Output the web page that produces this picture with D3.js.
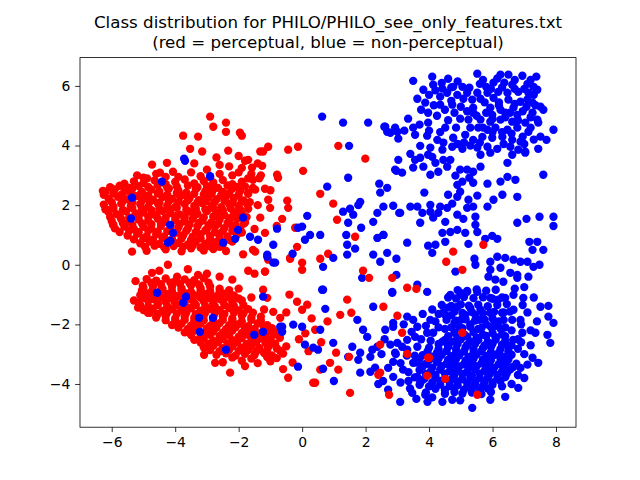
<!DOCTYPE html>
<html>
<head>
<meta charset="utf-8">
<script src="https://cdn.jsdelivr.net/npm/d3@7"></script>
<style>
  body { margin: 0; background: #fff; }
  text { font-family: "DejaVu Sans", sans-serif; }
</style>
</head>
<body>
<div id="chart"></div>
<script>
// Chart text
var titleLines = ["Class distribution for PHILO/PHILO_see_only_features.txt",
                  "(red = perceptual, blue = non-perceptual)"];
var xTicks = [-6, -4, -2, 0, 2, 4, 6, 8];
var yTicks = [-4, -2, 0, 2, 4, 6];

// red = perceptual, upper left blob
var redUpperCore = [
  [-5.6,2.72],[-5.3,2.8],[-5.0,2.74],[-4.65,2.83],[-4.3,2.7],[-4.0,2.78],[-3.7,2.86],[-3.4,2.73],[-3.1,2.81],[-2.8,2.76],[-2.5,2.84],[-2.2,2.7],[-1.9,2.79],
  [-6.2,2.45],[-5.9,2.53],[-5.6,2.47],[-5.35,2.55],[-5.05,2.44],[-4.75,2.52],[-4.5,2.46],[-4.2,2.56],[-3.9,2.49],[-3.65,2.42],[-3.35,2.54],[-3.05,2.47],[-2.8,2.52],[-2.5,2.44],[-2.2,2.55],[-1.95,2.48],[-1.7,2.41],
  [-6.1,2.22],[-5.8,2.28],[-5.55,2.2],[-5.25,2.3],[-4.95,2.24],[-4.7,2.18],[-4.4,2.27],[-4.1,2.21],[-3.85,2.3],[-3.55,2.23],[-3.25,2.17],[-2.95,2.26],[-2.7,2.2],[-2.4,2.29],[-2.15,2.23],[-1.85,2.16],
  [-6.25,2.02],[-5.95,1.96],[-5.7,2.05],[-5.4,1.98],[-5.1,2.03],[-4.85,1.95],[-4.55,2.06],[-4.25,1.99],[-4.0,1.94],[-3.7,2.04],[-3.4,1.97],[-3.15,2.07],[-2.85,2.0],[-2.55,1.93],[-2.3,2.04],[-2.0,1.98],[-1.75,2.06],
  [-6.1,1.77],[-5.85,1.7],[-5.55,1.79],[-5.25,1.72],[-5.0,1.76],[-4.7,1.69],[-4.4,1.8],[-4.15,1.73],[-3.85,1.68],[-3.55,1.78],[-3.3,1.71],[-3.0,1.8],[-2.7,1.74],[-2.45,1.67],[-2.15,1.77],[-1.9,1.72],
  [-6.0,1.47],[-5.7,1.53],[-5.45,1.45],[-5.15,1.52],[-4.85,1.48],[-4.55,1.55],[-4.3,1.44],[-4.0,1.51],[-3.7,1.46],[-3.45,1.54],[-3.15,1.48],[-2.85,1.43],[-2.6,1.52],[-2.3,1.46],[-2.05,1.55],[-1.8,1.42],
  [-5.9,1.22],[-5.6,1.28],[-5.3,1.2],[-5.0,1.27],[-4.75,1.21],[-4.45,1.3],[-4.15,1.19],[-3.9,1.26],[-3.6,1.22],[-3.3,1.29],[-3.0,1.2],[-2.75,1.27],[-2.45,1.23],[-2.2,1.3],[-1.95,1.18],
  [-5.5,0.98],[-5.2,1.04],[-4.9,0.96],[-4.6,1.02],[-4.35,0.95],[-4.05,1.05],[-3.75,0.99],[-3.45,0.94],[-3.2,1.03],[-2.9,0.97],[-2.6,1.04],[-2.35,0.95],[-2.05,1.01],
  [-5.1,0.72],[-4.8,0.78],[-4.5,0.7],[-4.2,0.77],[-3.9,0.73],[-3.6,0.68],[-3.35,0.79],[-3.05,0.71],[-2.75,0.76],[-2.5,0.69],[-2.2,0.78],
  [-4.9,0.47],[-4.3,0.52],[-3.8,0.45],[-3.5,0.55],[-3.1,0.48],[-2.8,0.53],[-2.4,0.46],
  [-5.2,3.0],[-4.6,3.05],[-3.5,3.1],[-2.6,3.05],[-2.2,3.0],[-3.9,2.95]
];
var redUpperFill = [
  [-6.05,2.6],[-5.75,2.65],[-5.45,2.58],[-5.15,2.64],[-4.85,2.61],[-4.55,2.67],[-4.25,2.59],[-3.95,2.63],[-3.6,2.66],[-3.3,2.6],[-3.0,2.64],[-2.65,2.58],[-2.35,2.66],[-2.05,2.61],[-1.8,2.63],[-1.55,2.58],
  [-6.25,2.35],[-5.95,2.39],[-5.7,2.34],[-5.4,2.4],[-5.1,2.36],[-4.85,2.33],[-4.55,2.39],[-4.25,2.35],[-3.95,2.41],[-3.7,2.34],[-3.4,2.38],[-3.1,2.36],[-2.85,2.4],[-2.55,2.33],[-2.3,2.39],[-2.0,2.35],[-1.7,2.38],
  [-6.0,2.1],[-5.65,2.14],[-5.35,2.09],[-5.05,2.15],[-4.8,2.11],[-4.5,2.08],[-4.2,2.14],[-3.9,2.1],[-3.6,2.16],[-3.3,2.09],[-3.05,2.13],[-2.75,2.11],[-2.45,2.15],[-2.2,2.08],[-1.9,2.13],[-1.65,2.1],
  [-6.2,1.86],[-5.95,1.89],[-5.65,1.84],[-5.35,1.9],[-5.05,1.86],[-4.75,1.83],[-4.5,1.89],[-4.2,1.85],[-3.95,1.91],[-3.65,1.84],[-3.35,1.88],[-3.05,1.86],[-2.8,1.9],[-2.5,1.83],[-2.25,1.89],[-1.95,1.85],[-1.7,1.88],
  [-6.05,1.6],[-5.75,1.65],[-5.45,1.59],[-5.15,1.64],[-4.85,1.61],[-4.6,1.66],[-4.3,1.58],[-4.0,1.63],[-3.7,1.6],[-3.4,1.65],[-3.1,1.59],[-2.8,1.62],[-2.55,1.65],[-2.25,1.58],[-2.0,1.63],[-1.75,1.6],
  [-5.95,1.35],[-5.65,1.4],[-5.35,1.34],[-5.05,1.39],[-4.75,1.36],[-4.45,1.41],[-4.15,1.33],[-3.85,1.38],[-3.55,1.35],[-3.25,1.4],[-2.95,1.34],[-2.65,1.37],[-2.35,1.4],[-2.1,1.33],[-1.85,1.37],
  [-5.75,1.1],[-5.45,1.14],[-5.15,1.09],[-4.85,1.15],[-4.55,1.11],[-4.25,1.13],[-3.95,1.08],[-3.65,1.14],[-3.35,1.1],[-3.05,1.15],[-2.75,1.09],[-2.5,1.12],[-2.2,1.14],[-1.9,1.08],
  [-5.3,0.85],[-5.0,0.89],[-4.7,0.84],[-4.4,0.9],[-4.1,0.86],[-3.8,0.88],[-3.5,0.83],[-3.2,0.89],[-2.9,0.85],[-2.6,0.9],[-2.3,0.84],
  [-4.95,0.6],[-4.65,0.64],[-4.35,0.59],[-4.05,0.63],[-3.75,0.6],[-3.45,0.65],[-3.2,0.58],[-2.9,0.62],[-2.6,0.6],
  [-5.0,2.92],[-4.3,2.95],[-3.2,2.97],[-2.9,2.93],[-1.7,2.9],
  [-2.3,3.3],[-1.9,3.25],[-2.6,3.35],[-2.0,3.65],[-1.4,3.4],[-1.3,3.0],[-1.6,3.05]
];
var redUpperScatter = [
  [-2.9,4.97],[-2.4,4.77],[-2.8,4.63],[-2.4,4.46],[-1.96,4.43],[-1.9,4.33],[-3.75,4.33],[-3.28,4.3],[-3.53,3.89],[-3.15,3.8],
  [-2.33,3.83],[-1.32,3.8],[-4.26,3.42],[-4.73,3.36],[-1.8,3.49],[-1.7,3.52],[-3.0,3.19],[-4.07,3.12],[-4.48,3.09],[-4.89,2.9],
  [-1.58,3.26],[-1.55,2.85],[-6.28,2.48],[-5.36,0.44],[-1.86,0.35],[-1.55,0.5],[-6.15,1.85],[-5.96,1.34],[-2.0,3.1],[-3.4,3.4],[-2.7,3.6]
];
var redMiddle = [
  [-1.07,3.96],[-1.23,3.8],[-0.44,3.86],[-0.13,3.96],[0.03,3.15],[-1.26,3.32],[-0.79,3.02],[-0.76,2.92],[-1.17,2.55],[-1.48,2.52],
  [-0.47,2.15],[-0.44,1.91],[-1.07,2.18],[-1.01,1.91],[-0.63,1.54],[-1.32,1.58],[-0.22,1.24],[-1.17,1.07],[-1.48,0.44],[-0.16,0.6],
  [-0.38,0.2],[-1.07,0.17],[0.57,0.2],[0.0,-0.17],[-1.17,-0.23],[-1.7,-0.2],[-1.4,2.0],[-1.5,1.2],[-0.8,1.3],[-1.35,2.9],[-1.0,2.5],
  [0.57,2.38],[0.82,0.37]
];
// red lower blob
var redLowerCore = [
  [-4.9,-0.48],[-4.6,-0.53],[-4.3,-0.46],[-4.0,-0.55],[-3.7,-0.49],[-3.4,-0.52],[-3.1,-0.45],
  [-5.0,-0.77],[-4.7,-0.72],[-4.4,-0.8],[-4.1,-0.74],[-3.8,-0.79],[-3.5,-0.7],[-3.2,-0.78],[-2.9,-0.73],[-2.6,-0.8],
  [-5.1,-1.02],[-4.85,-0.97],[-4.55,-1.04],[-4.25,-0.98],[-3.95,-1.05],[-3.65,-0.96],[-3.35,-1.03],[-3.05,-0.99],[-2.75,-1.06],[-2.45,-0.97],[-2.15,-1.03],
  [-5.15,-1.27],[-4.85,-1.22],[-4.55,-1.3],[-4.3,-1.24],[-4.0,-1.29],[-3.7,-1.21],[-3.4,-1.28],[-3.1,-1.23],[-2.8,-1.3],[-2.5,-1.22],[-2.2,-1.27],[-1.9,-1.2],
  [-5.0,-1.52],[-4.7,-1.47],[-4.4,-1.55],[-4.1,-1.49],[-3.8,-1.53],[-3.5,-1.46],[-3.2,-1.54],[-2.9,-1.48],[-2.6,-1.52],[-2.3,-1.45],[-2.0,-1.53],[-1.7,-1.49],
  [-4.6,-1.77],[-4.3,-1.72],[-4.0,-1.8],[-3.7,-1.74],[-3.4,-1.78],[-3.1,-1.7],[-2.8,-1.79],[-2.5,-1.73],[-2.2,-1.8],[-1.9,-1.71],[-1.6,-1.77],[-1.3,-1.74],
  [-4.1,-2.02],[-3.8,-1.97],[-3.5,-2.04],[-3.2,-1.98],[-2.9,-2.05],[-2.6,-1.96],[-2.3,-2.03],[-2.0,-1.99],[-1.7,-2.06],[-1.4,-1.97],[-1.1,-2.03],
  [-3.7,-2.27],[-3.4,-2.22],[-3.1,-2.3],[-2.8,-2.24],[-2.5,-2.28],[-2.2,-2.21],[-1.9,-2.29],[-1.6,-2.23],[-1.35,-2.3],[-1.05,-2.22],[-0.8,-2.27],
  [-3.4,-2.52],[-3.1,-2.47],[-2.8,-2.55],[-2.5,-2.49],[-2.2,-2.53],[-1.9,-2.46],[-1.6,-2.54],[-1.3,-2.48],[-1.0,-2.52],[-0.7,-2.45],
  [-3.1,-2.77],[-2.8,-2.72],[-2.5,-2.8],[-2.2,-2.74],[-1.9,-2.78],[-1.6,-2.71],[-1.35,-2.79],[-1.05,-2.73],[-0.8,-2.8],[-0.5,-2.74],
  [-2.7,-3.02],[-2.4,-2.97],[-2.1,-3.05],[-1.8,-2.99],[-1.5,-3.03],[-1.2,-2.96],[-0.95,-3.04],[-0.6,-2.98],
  [-2.5,-3.27],[-1.9,-3.22],[-1.4,-3.3],[-1.0,-3.24],[-0.3,-3.28]
];
var redLowerFill = [
  [-4.75,-0.61],[-4.45,-0.65],[-4.15,-0.6],[-3.85,-0.64],[-3.55,-0.61],[-3.25,-0.66],[-2.95,-0.6],
  [-5.05,-0.86],[-4.75,-0.9],[-4.45,-0.85],[-4.1,-0.89],[-3.8,-0.86],[-3.5,-0.91],[-3.2,-0.85],[-2.9,-0.88],[-2.6,-0.9],[-2.3,-0.85],
  [-5.0,-1.11],[-4.7,-1.15],[-4.4,-1.1],[-4.1,-1.14],[-3.8,-1.11],[-3.5,-1.16],[-3.2,-1.1],[-2.9,-1.13],[-2.6,-1.15],[-2.3,-1.1],[-2.0,-1.13],
  [-5.1,-1.36],[-4.85,-1.4],[-4.55,-1.35],[-4.25,-1.39],[-3.95,-1.36],[-3.65,-1.41],[-3.35,-1.35],[-3.05,-1.38],[-2.75,-1.4],[-2.45,-1.35],[-2.15,-1.38],[-1.85,-1.36],
  [-4.8,-1.61],[-4.55,-1.65],[-4.25,-1.6],[-3.95,-1.64],[-3.65,-1.61],[-3.35,-1.66],[-3.05,-1.6],[-2.75,-1.63],[-2.45,-1.65],[-2.15,-1.6],[-1.85,-1.63],[-1.55,-1.61],
  [-4.3,-1.86],[-4.0,-1.9],[-3.7,-1.85],[-3.4,-1.89],[-3.1,-1.86],[-2.8,-1.91],[-2.5,-1.85],[-2.2,-1.88],[-1.9,-1.9],[-1.6,-1.85],[-1.3,-1.88],
  [-3.9,-2.11],[-3.6,-2.15],[-3.3,-2.1],[-3.0,-2.14],[-2.7,-2.11],[-2.4,-2.16],[-2.1,-2.1],[-1.8,-2.13],[-1.5,-2.15],[-1.2,-2.1],[-0.95,-2.13],
  [-3.5,-2.36],[-3.2,-2.4],[-2.9,-2.35],[-2.6,-2.39],[-2.3,-2.36],[-2.0,-2.41],[-1.7,-2.35],[-1.45,-2.38],[-1.15,-2.4],[-0.9,-2.35],
  [-3.2,-2.61],[-2.95,-2.65],[-2.65,-2.6],[-2.35,-2.64],[-2.05,-2.61],[-1.75,-2.66],[-1.45,-2.6],[-1.15,-2.63],[-0.85,-2.65],
  [-2.9,-2.86],[-2.6,-2.9],[-2.3,-2.85],[-2.0,-2.89],[-1.7,-2.86],[-1.45,-2.91],[-1.1,-2.85],[-0.7,-2.88],
  [-2.2,-3.11],[-1.6,-3.15],[-1.1,-3.1],[-0.8,-3.13]
];
var redLowerScatter = [
  [-5.17,-1.44],[-4.86,-1.61],[-5.05,-0.94],[-5.02,-0.7],[-4.73,-0.27],[-4.23,0.0],[-3.94,-0.4],[-3.28,-0.34],[-3.0,-0.3],[-2.27,-3.62],
  [-3.09,-3.02],[-2.74,-3.29],[-0.44,-3.79],[-0.6,-3.5],[0.41,-3.96],[0.57,-3.52],[0.41,-2.18],[-0.16,-1.24],[0.16,-1.34],[0.0,-1.51],
  [-0.91,-1.58],[-0.69,-1.78],[-1.1,-1.11],[-1.17,-0.23],[-0.38,0.23],[0.0,0.07],[0.35,-3.96],[0.2,-2.9],[-0.1,-2.5],[0.1,-2.3],
  [0.6,-2.6],[-1.8,-3.4],[-2.0,-0.8],[-1.6,-1.1],[-1.2,-1.5],[-2.2,-0.5],[-1.5,-0.3],[-5.3,-1.2],[-5.25,-0.55],[-4.5,-0.2],
  [-3.6,-0.15],[-2.6,-0.4],[-1.23,-0.84],[-0.4,-1.0],[0.3,-1.8],[0.8,-1.9],[-0.5,-1.6]
];
// red points inside the blue side (drawn last)
var redRight = [
  [1.67,0.94],[1.92,-0.2],[2.11,-0.44],[2.84,-0.44],[1.99,3.56],[1.14,3.99],[0.98,2.05],[1.1,1.51],[1.42,-1.17],[1.2,-1.68],
  [1.55,-1.61],[1.51,-4.3],[1.14,-3.52],[0.88,-3.29],[1.07,-2.95],[1.48,-3.09],[2.56,-1.41],[3.0,-1.71],[3.31,-0.77],[3.6,-0.81],
  [3.15,-2.28],[3.31,-2.99],[2.46,-3.62],[2.74,-4.36],[4.0,-3.12],[3.94,-3.72],[4.51,-3.83],[5.52,-4.36],[5.05,-2.28],[4.76,0.44],
  [4.54,0.1],[5.05,-0.17],[5.71,0.67],[3.97,-3.12],[2.46,-2.68],[2.4,-3.69]
];

// blue = non-perceptual
var blueLeft = [
  [-5.36,2.25],[-3.72,3.56],[-2.9,2.97],[-4.42,2.79],[-5.39,1.55],[-4.16,1.34],[-4.07,1.07],[-4.23,0.74],[-4.15,0.8],[-2.02,1.17],
  [-1.86,1.58],[-2.11,0.87],[-1.64,0.94],[-1.39,0.84],[-2.49,0.74],[-3.69,3.49],
  [-4.57,-0.94],[-3.66,-1.07],[-3.75,-1.28],[-3.25,-1.78],[-2.81,-1.78],[-3.22,-2.25],[-2.4,-2.85],[-1.51,-2.35],[-1.23,-2.25],[-1.23,-1.07],
  [-0.63,-2.08],[-0.63,-2.25],[-0.28,-2.01],[0.0,-2.08],[0.09,-2.68],[0.35,-2.78],[0.5,-2.85],[-0.13,-3.42],[-1.1,0.27],[-0.85,0.07],
  [-0.3,0.37],[-0.69,-2.08],[0.57,-2.18],[0.98,-2.62],[0.66,-3.49],[0.63,-0.84],[0.73,-1.48]
];
var blueMiddle = [
  [0.63,4.97],[1.29,4.77],[2.08,4.77],[2.59,4.63],[2.68,4.46],[3.0,4.46],[1.48,3.99],[3.03,3.52],[2.97,3.15],[1.45,2.92],
  [0.79,2.62],[2.43,2.72],[2.68,2.58],[2.46,2.42],[1.29,1.78],[1.51,1.88],[1.61,1.68],[1.83,2.11],[1.77,2.0],[1.45,1.41],
  [2.37,1.74],[2.24,1.44],[2.56,1.95],[2.87,1.98],[3.06,1.74],[0.16,1.64],[0.0,1.28],[-0.13,1.24],[-0.79,1.21],[0.25,1.0],
  [0.09,0.84],[0.57,1.0],[1.39,1.0],[1.42,0.67],[1.67,0.54],[1.86,1.24],[1.42,0.34],[-0.91,0.67],[2.24,0.34],[2.46,0.1],
  [2.56,1.0],[2.37,0.9],[2.68,0.4],[2.97,0.2],[0.66,-0.07],[0.98,0.23],[1.89,-0.44],[0.66,-0.84],[2.84,-0.91],[-1.1,0.34],
  [-0.91,0.07]
];
var blueLowerMiddle = [
  [2.24,-1.41],[2.84,-0.94],[3.63,-0.67],[3.94,-0.91],[1.74,-1.85],[1.92,-2.18],[2.05,-2.42],[1.58,-2.75],[1.45,-3.09],[1.83,-2.95],
  [1.77,-3.19],[2.15,-3.09],[2.21,-2.85],[2.37,-2.75],[1.83,-3.62],[2.15,-3.59],[2.3,-3.45],[2.62,-2.18],[2.87,-1.95],[2.78,-2.68],
  [3.0,-2.62],[3.15,-2.75],[3.31,-2.52],[3.31,-2.85],[2.93,-2.95],[2.87,-3.26],[2.71,-3.46],[2.87,-3.76],[3.18,-3.52],[3.5,-3.29],
  [3.63,-2.75],[3.56,-2.42],[3.94,-2.28],[3.63,-3.76],[3.72,-3.96],[3.35,-3.9],[2.71,-4.19],[3.09,-4.6],[3.31,-1.74],[3.5,-1.85],
  [3.63,-2.08],[2.87,-2.08],[4.04,-1.85],[4.3,-2.1],[4.13,-2.28],[4.5,-2.15],[4.42,-2.58],[3.47,-4.3],[3.88,-4.36],[2.97,-0.34],
  [1.0,-3.9],[2.4,-4.0]
];
var blueLowerCore = [
  [4.8,-2.28],[5.1,-2.33],[5.4,-2.26],[5.7,-2.35],[6.0,-2.29],[6.3,-2.34],
  [4.5,-2.52],[4.75,-2.58],[5.0,-2.5],[5.3,-2.57],[5.55,-2.53],[5.85,-2.59],[6.1,-2.51],[6.4,-2.56],[6.65,-2.52],
  [4.0,-2.78],[4.3,-2.83],[4.6,-2.76],[4.85,-2.82],[5.15,-2.77],[5.4,-2.84],[5.7,-2.79],[5.95,-2.75],[6.25,-2.83],[6.5,-2.78],[6.8,-2.82],
  [3.8,-3.03],[4.1,-3.08],[4.4,-3.02],[4.7,-3.07],[4.95,-3.04],[5.25,-3.09],[5.5,-3.01],[5.8,-3.06],[6.05,-3.03],[6.35,-3.08],[6.6,-3.02],
  [3.6,-3.28],[3.9,-3.33],[4.25,-3.27],[4.55,-3.32],[4.8,-3.29],[5.1,-3.34],[5.35,-3.26],[5.65,-3.31],[5.9,-3.28],[6.2,-3.33],[6.45,-3.27],[6.75,-3.32],
  [3.7,-3.53],[4.05,-3.58],[4.35,-3.52],[4.65,-3.57],[4.9,-3.54],[5.2,-3.59],[5.45,-3.51],[5.75,-3.56],[6.0,-3.53],[6.3,-3.58],[6.55,-3.52],
  [3.55,-3.78],[3.85,-3.83],[4.2,-3.77],[4.5,-3.82],[4.75,-3.79],[5.05,-3.84],[5.3,-3.76],[5.6,-3.81],[5.85,-3.78],[6.15,-3.83],[6.4,-3.77],
  [3.7,-4.03],[4.0,-4.08],[4.35,-4.02],[4.65,-4.07],[4.9,-4.04],[5.2,-4.09],[5.45,-4.01],[5.7,-4.06],[6.0,-4.03],[6.3,-4.08],
  [3.9,-4.28],[4.5,-4.33],[4.8,-4.27],[5.05,-4.32],[5.35,-4.29],[5.65,-4.34],[5.95,-4.27]
];
var blueLowerFill = [
  [4.6,-2.4],[4.9,-2.45],[5.2,-2.41],[5.5,-2.44],[5.8,-2.39],[6.1,-2.43],[6.4,-2.4],
  [4.3,-2.66],[4.6,-2.7],[4.9,-2.65],[5.2,-2.69],[5.45,-2.66],[5.75,-2.71],[6.0,-2.65],[6.3,-2.68],[6.6,-2.7],
  [3.95,-2.91],[4.25,-2.95],[4.55,-2.9],[4.85,-2.94],[5.1,-2.91],[5.4,-2.96],[5.65,-2.9],[5.95,-2.93],[6.2,-2.95],[6.5,-2.9],
  [3.7,-3.16],[4.0,-3.2],[4.3,-3.15],[4.6,-3.19],[4.85,-3.16],[5.15,-3.21],[5.4,-3.15],[5.7,-3.18],[5.95,-3.2],[6.25,-3.15],[6.5,-3.18],
  [3.8,-3.41],[4.1,-3.45],[4.4,-3.4],[4.7,-3.44],[4.95,-3.41],[5.25,-3.46],[5.5,-3.4],[5.8,-3.43],[6.05,-3.45],[6.35,-3.4],[6.65,-3.43],
  [3.9,-3.66],[4.2,-3.7],[4.5,-3.65],[4.8,-3.69],[5.05,-3.66],[5.35,-3.71],[5.6,-3.65],[5.9,-3.68],[6.15,-3.7],[6.45,-3.65],
  [3.75,-3.91],[4.1,-3.95],[4.35,-3.9],[4.65,-3.94],[4.9,-3.91],[5.2,-3.96],[5.45,-3.9],[5.75,-3.93],[6.0,-3.95],[6.25,-3.9],
  [4.2,-4.16],[4.5,-4.2],[4.8,-4.15],[5.1,-4.19],[5.35,-4.16],[5.6,-4.21],[5.85,-4.15],
  [4.7,-1.7],[5.0,-1.85],[5.6,-1.85],[6.0,-1.8],[6.35,-1.6],[5.3,-1.45],[4.95,-2.1],[5.55,-2.15],[6.1,-2.05],[6.6,-2.2],
  [4.3,-1.65],[6.8,-2.5],[6.9,-2.0],
  [4.9,-0.85],[5.2,-0.88],[5.5,-0.83],[5.8,-0.87],[6.1,-0.84],
  [4.6,-1.1],[4.85,-1.13],[5.1,-1.08],[5.4,-1.12],[5.7,-1.09],[6.0,-1.14],[6.3,-1.1],
  [4.4,-1.35],[4.7,-1.38],[5.0,-1.33],[5.25,-1.37],[5.55,-1.34],[5.85,-1.39],[6.15,-1.35],[6.45,-1.32],
  [4.45,-1.6],[4.8,-1.57],[5.05,-1.62],[5.35,-1.59],[5.7,-1.63],[6.05,-1.58],[6.3,-1.61],[6.55,-1.57],
  [4.55,-1.85],[4.85,-1.88],[5.15,-1.83],[5.45,-1.87],[5.75,-1.84],[6.05,-1.89],[6.35,-1.85],
  [4.7,-2.1],[5.05,-2.13],[5.3,-2.08],[5.65,-2.12],[5.95,-2.09],[6.25,-2.14],
  [3.2,-2.0],[3.45,-2.25],[3.75,-2.5],[4.05,-2.55],[3.9,-2.05],[3.3,-3.05],[3.55,-3.05],[3.1,-3.3],[3.35,-3.6],[3.1,-3.95],
  [3.4,-4.15],[3.6,-4.5],[3.95,-4.6],[2.95,-3.0],[4.2,-1.9],[4.1,-1.5],[3.8,-1.65],[2.6,-2.5],[2.5,-3.0],[2.55,-3.9],
  [6.9,-2.6],[7.1,-3.35],[6.8,-3.7],[7.2,-2.2],[7.4,-1.9],[6.95,-1.35],[7.3,-1.1],[6.7,-0.8],[7.0,-0.75]
];
var blueRight = [
  [4.42,1.07],[4.67,1.1],[4.89,1.17],[5.14,1.07],[5.46,1.34],[5.52,1.1],[6.78,1.41],[7.92,1.3],[2.56,1.0],[3.31,0.74],
  [3.97,0.64],[4.2,0.67],[4.1,0.4],[4.51,0.77],[5.24,0.7],[5.77,0.87],[5.99,0.97],[6.15,0.87],[7.16,0.77],[7.41,0.77],
  [7.26,0.5],[7.6,0.5],[4.83,-0.23],[5.43,0.2],[5.46,0.0],[5.93,0.1],[6.15,0.27],[6.4,0.23],[6.66,0.17],[6.88,0.1],
  [7.1,0.1],[7.29,-0.07],[7.48,0.0],[5.93,-0.17],[6.25,-0.1],[6.56,-0.27],[6.78,-0.34],[5.87,-0.4],[6.09,-0.5],[6.34,-0.57],
  [6.78,-0.44],[7.13,-0.4],[4.67,-1.01],[4.98,-0.94],[5.2,-0.91],[5.52,-0.91],[5.93,-1.11],[6.18,-1.17],[6.4,-1.11],[6.66,-1.01],
  [6.97,-1.11],[7.51,-1.41],[7.76,-1.38],[7.76,-1.74],[7.92,-1.95],[4.6,-1.44],[4.51,-1.68],[4.89,-1.41],[5.14,-1.68],[5.46,-1.68],
  [5.62,-1.51],[5.93,-1.61],[6.66,-1.51],[6.62,-1.85],[6.88,-1.85],[6.94,-2.28],[7.35,-2.28],[7.73,-2.35],[7.82,-2.62],[4.8,-1.95],
  [5.3,-2.0],[5.8,-2.0],[6.2,-1.9],[6.4,-2.1],[7.1,-1.6],[7.2,-2.7],[7.0,-3.0],[6.88,-3.46],[7.44,-3.29],[7.26,-3.12],
  [6.81,-4.13],[6.4,-4.43],[5.93,-4.53],[5.36,-4.8],[4.98,-4.55],[4.73,-4.53],[4.42,-4.6],[4.1,-4.45],[7.0,-3.8],[6.6,-4.0]
];
var blueUpper = [
  [3.5,6.17],[4.1,6.31],[4.6,6.24],[5.52,6.41],[6.25,6.38],[6.5,6.38],[6.94,6.34],[7.38,6.31],
  [4.13,6.04],[4.42,5.91],[4.76,5.97],[5.05,5.97],[5.27,5.94],[5.6,6.07],[5.8,5.97],[6.03,6.11],[6.37,6.11],[6.62,6.04],[7.1,6.07],[7.29,5.97],
  [3.82,5.87],[4.57,5.77],[4.89,5.7],[5.2,5.77],[5.52,5.77],[5.84,5.77],[6.18,5.8],[6.47,5.77],[6.81,5.8],[7.13,5.77],[7.41,5.87],
  [3.63,5.57],[3.88,5.44],[4.35,5.64],[5.08,5.57],[5.36,5.54],[5.62,5.57],[6.03,5.6],[6.5,5.54],[6.88,5.47],[7.26,5.44],
  [4.35,5.37],[4.73,5.37],[5.39,5.27],[5.93,5.27],[6.25,5.2],[6.66,5.27],[7.07,5.3],[7.51,5.3],[7.6,5.2],
  [3.97,5.1],[5.39,5.1],[5.99,5.03],[6.4,5.1],[6.78,5.03],[7.26,5.1],[7.41,4.87],
  [3.34,4.9],[3.97,4.77],[4.98,4.9],[5.24,4.87],[5.62,4.87],[5.93,4.8],[6.25,4.87],[6.62,4.8],[7.03,4.77],[7.44,4.77],
  [2.62,4.63],[2.93,4.6],[3.22,4.5],[3.5,4.6],[4.51,4.6],[5.3,4.6],[5.55,4.6],[5.84,4.53],[6.09,4.6],[6.47,4.53],[6.78,4.6],[7.13,4.46],[7.92,4.53],
  [2.78,4.43],[3.03,4.23],[3.56,4.36],[3.94,4.33],[4.26,4.19],[4.76,4.26],[5.14,4.36],[5.39,4.19],[5.68,4.29],[5.99,4.26],[6.31,4.29],[6.62,4.19],[6.88,4.13],[7.51,4.3],[7.7,4.19],
  [3.72,3.99],[4.04,3.93],[4.42,3.86],[4.73,3.96],[5.05,3.89],[5.52,3.93],[5.84,3.96],[6.15,3.89],[6.56,3.96],[6.81,3.86],[7.03,3.79],[7.44,3.89],
  [3.41,3.72],[3.72,3.59],[4.1,3.62],[5.62,3.69],[5.93,3.76],[6.62,3.69],[7.03,3.76],[3.97,3.69],
  [2.93,3.19],[3.15,3.09],[3.56,3.52],[3.5,3.26],[3.82,3.29],[4.2,3.42],[4.45,3.52],[4.67,3.52],[4.57,3.29],[4.29,3.12],
  [4.04,3.02],[4.98,3.19],[5.2,3.19],[5.39,3.12],[5.62,3.29],[4.83,2.99],[5.05,2.79],[4.89,2.68],[5.27,2.92],[5.39,2.75],
  [5.84,2.72],[6.47,2.95],[6.25,2.79],[6.72,2.85],[7.6,3.02],[6.47,3.42],
  [4.98,2.45],[4.6,2.35],[4.89,2.28],[5.52,2.32],[5.24,2.18],[5.39,1.95],[5.84,1.95],[6.03,2.18],[6.31,2.35],[6.78,2.28],
  [3.85,2.42],[4.04,2.01],[4.35,1.95],[4.57,1.91],[4.73,2.05],[5.2,1.91],
  [3.09,1.74],[3.41,1.95],[3.63,1.95],[3.79,1.74],[4.04,1.78],[4.29,1.74],[3.72,1.41],[4.13,1.58],[4.89,1.68],[5.08,1.54],
  [5.46,1.61],[4.51,1.44],[7.07,1.54],[7.48,1.61],[7.92,1.61]
];
var blueUpperFill = [
  [5.7,6.2],[6.15,6.25],[6.7,6.2],[7.2,6.2],[5.95,5.9],[6.3,5.95],[6.7,5.9],[7.0,5.9],[7.3,5.7],[5.75,5.45],
  [6.2,5.45],[6.7,5.4],[7.1,5.55],[7.35,5.35],[5.8,5.1],[6.2,5.35],[6.55,5.1],[6.95,5.15],[7.2,4.95],[6.0,4.9],
  [6.4,4.95],[6.8,4.85],[7.2,4.6],[6.6,4.4],[6.3,4.45],[6.95,4.3],[7.3,4.2],[7.0,4.05],[6.35,4.05],[5.6,4.1],
  [5.3,4.0],[6.0,4.45],[5.7,4.6],[4.7,5.95],[4.4,6.1],[4.9,6.15],[4.7,5.5],[4.5,5.2],[4.25,5.0],[4.8,5.1],
  [4.6,4.85],[4.35,4.45],[4.0,4.5],[4.15,5.35],[3.7,4.7],[3.75,5.2],[4.0,5.7],[4.2,5.85],[4.85,4.6],[4.45,4.1],
  [4.9,4.05],[5.1,4.1],[5.2,5.15],[5.0,5.3],[5.5,5.0]
];

// Layout, matplotlib default figure 6.4x4.8 in at 100 dpi
var W = 640, H = 480;
var margin = { top: 57.6, right: 64, bottom: 52.8, left: 80 };
var width = W - margin.left - margin.right;
var height = H - margin.top - margin.bottom;

var svg = d3.select("#chart").append("svg")
    .attr("width", W)
    .attr("height", H)
    .style("background", "#fff");

var x = d3.scaleLinear().domain([-7.0, 8.63]).range([0, width]);
var y = d3.scaleLinear().domain([-5.45, 6.95]).range([height, 0]);

var g = svg.append("g")
    .attr("transform", "translate(" + margin.left + "," + margin.top + ")");

g.append("clipPath").attr("id", "clip")
  .append("rect").attr("width", width).attr("height", height);

var fmt = function(d) { return d < 0 ? "\u2212" + Math.abs(d) : "" + d; };

var layers = [
  { pts: redUpperCore.concat(redUpperFill, redUpperScatter, redMiddle, redLowerCore, redLowerFill, redLowerScatter), color: "#ff0000" },
  { pts: blueLeft.concat(blueMiddle, blueLowerMiddle, blueLowerCore, blueLowerFill, blueRight, blueUpper, blueUpperFill), color: "#0000ff" },
  { pts: redRight, color: "#ff0000" }
];

var plot = g.append("g").attr("clip-path", "url(#clip)");
layers.forEach(function(l) {
  plot.append("g").selectAll("circle")
    .data(l.pts)
    .enter().append("circle")
    .attr("cx", function(d) { return x(d[0]); })
    .attr("cy", function(d) { return y(d[1]); })
    .attr("r", 4.17)
    .attr("fill", l.color);
});

// axes
var tickLen = 4.86;
var xAxis = g.append("g")
    .attr("transform", "translate(0," + height + ")")
    .call(d3.axisBottom(x).tickValues(xTicks).tickFormat(fmt).tickSize(tickLen).tickPadding(4.86));
var yAxis = g.append("g")
    .call(d3.axisLeft(y).tickValues(yTicks).tickFormat(fmt).tickSize(tickLen).tickPadding(4.86));

[xAxis, yAxis].forEach(function(a) {
  a.select(".domain").remove();
  a.selectAll("line").attr("stroke", "#000").attr("stroke-width", 0.8);
  a.selectAll("text")
    .attr("font-family", "DejaVu Sans, sans-serif")
    .attr("font-size", "13.9px")
    .attr("fill", "#000");
});

g.append("rect")
    .attr("width", width)
    .attr("height", height)
    .attr("fill", "none")
    .attr("stroke", "#000")
    .attr("stroke-width", 0.8);

// title, two lines
svg.append("g").selectAll("text")
    .data(titleLines)
    .enter().append("text")
    .attr("x", margin.left + width / 2)
    .attr("y", function(d, i) { return 28 + i * 20; })
    .attr("text-anchor", "middle")
    .attr("font-size", "16.67px")
    .attr("fill", "#000")
    .text(function(d) { return d; });
</script>
</body>
</html>
